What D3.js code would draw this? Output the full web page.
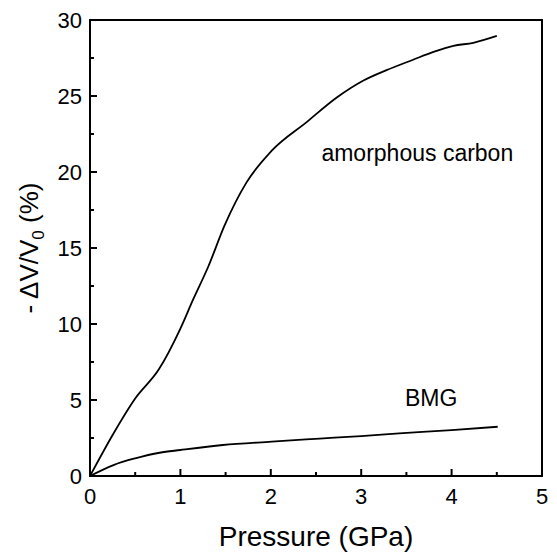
<!DOCTYPE html>
<html lang="en">
<head>
<meta charset="utf-8">
<title>Volume change vs pressure</title>
<script src="https://cdn.jsdelivr.net/npm/d3@7"></script>
<style>
  body { margin: 0; background: #fff; }
  svg { display: block; font-family: "Liberation Sans", Arial, sans-serif; }
  .frame { fill: none; stroke: #000; stroke-width: 2; }
  .curve { fill: none; stroke: #000; stroke-width: 1.8; stroke-linejoin: round; }
  .tick-label { font-size: 22px; fill: #000; }
</style>
</head>
<body>
<div id="chart"></div>
<script>
// data
const carbonP = [0, 0.26, 0.5, 0.76, 1.0, 1.14, 1.31, 1.49, 1.73, 2.01, 2.4, 2.73, 3.02, 3.28, 3.58, 3.8, 4.02, 4.24, 4.5];
const carbonV = [0, 2.8, 5.1, 7.0, 9.7, 11.6, 13.8, 16.5, 19.3, 21.4, 23.3, 24.9, 26.0, 26.7, 27.4, 27.9, 28.3, 28.5, 28.95];
const bmgP = [0, 0.26, 0.5, 0.77, 1.0, 1.47, 2.01, 2.54, 3.0, 3.42, 4.0, 4.51];
const bmgV = [0, 0.72, 1.16, 1.53, 1.71, 2.04, 2.26, 2.46, 2.63, 2.80, 3.02, 3.24];
const xTicks = [0, 1, 2, 3, 4, 5];
const yTicks = [0, 5, 10, 15, 20, 25, 30];
const labels = [
  {text: "amorphous carbon", p: 2.56, v: 20.7},
  {text: "BMG", p: 3.485, v: 4.6}
];

const width = 557, height = 552;
const margin = {top: 20, right: 15, bottom: 76, left: 90};

const svg = d3.select('#chart').append('svg')
    .attr('width', width)
    .attr('height', height);

svg.append('rect').attr('width', width).attr('height', height).attr('fill', '#fff');

const x = d3.scaleLinear().domain([0, 5]).range([margin.left, width - margin.right]);
const y = d3.scaleLinear().domain([0, 30]).range([height - margin.bottom, margin.top]);

// inward ticks, bottom and left only
const xMinor = d3.range(0.5, 5, 1);
const yMinor = d3.range(2.5, 30, 5);

svg.append('g').selectAll('line.xmaj').data(xTicks.slice(1, -1)).join('line')
    .attr('x1', d => x(d)).attr('x2', d => x(d))
    .attr('y1', y(0)).attr('y2', y(0) - 7)
    .attr('stroke', '#000').attr('stroke-width', 2);
svg.append('g').selectAll('line.xmin').data(xMinor).join('line')
    .attr('x1', d => x(d)).attr('x2', d => x(d))
    .attr('y1', y(0)).attr('y2', y(0) - 4)
    .attr('stroke', '#000').attr('stroke-width', 2);
svg.append('g').selectAll('line.ymaj').data(yTicks.slice(1, -1)).join('line')
    .attr('x1', x(0)).attr('x2', x(0) + 7)
    .attr('y1', d => y(d)).attr('y2', d => y(d))
    .attr('stroke', '#000').attr('stroke-width', 2);
svg.append('g').selectAll('line.ymin').data(yMinor).join('line')
    .attr('x1', x(0)).attr('x2', x(0) + 4)
    .attr('y1', d => y(d)).attr('y2', d => y(d))
    .attr('stroke', '#000').attr('stroke-width', 2);

// tick labels
svg.append('g').selectAll('text').data(xTicks).join('text')
    .attr('class', 'tick-label')
    .attr('x', d => x(d))
    .attr('y', y(0) + 28)
    .attr('text-anchor', 'middle')
    .text(d => d);
svg.append('g').selectAll('text').data(yTicks).join('text')
    .attr('class', 'tick-label')
    .attr('x', x(0) - 8)
    .attr('y', d => y(d) + 8)
    .attr('text-anchor', 'end')
    .text(d => d);

// curves
const line = d3.line()
    .x(d => x(d[0]))
    .y(d => y(d[1]))
    .curve(d3.curveMonotoneX);

svg.append('path').attr('class', 'curve')
    .attr('d', line(d3.zip(carbonP, carbonV)));
svg.append('path').attr('class', 'curve')
    .attr('d', line(d3.zip(bmgP, bmgV)));

// frame
svg.append('rect').attr('class', 'frame')
    .attr('x', x(0)).attr('y', y(30))
    .attr('width', x(5) - x(0)).attr('height', y(0) - y(30));

// curve labels
svg.append('g').selectAll('text').data(labels).join('text')
    .attr('x', d => x(d.p))
    .attr('y', d => y(d.v))
    .attr('font-size', 23)
    .text(d => d.text);

// axis titles
svg.append('text')
    .attr('x', (x(0) + x(5)) / 2)
    .attr('y', 546)
    .attr('text-anchor', 'middle')
    .attr('font-size', 28)
    .text('Pressure (GPa)');

const yTitle = svg.append('text')
    .attr('transform', `translate(38, ${(y(0) + y(30)) / 2}) rotate(-90)`)
    .attr('text-anchor', 'middle')
    .attr('font-size', 26);
yTitle.append('tspan').text('- \u0394V/V');
yTitle.append('tspan').attr('font-size', 17).attr('dy', 6).text('0');
yTitle.append('tspan').attr('dy', -6).text(' (%)');
</script>
</body>
</html>
